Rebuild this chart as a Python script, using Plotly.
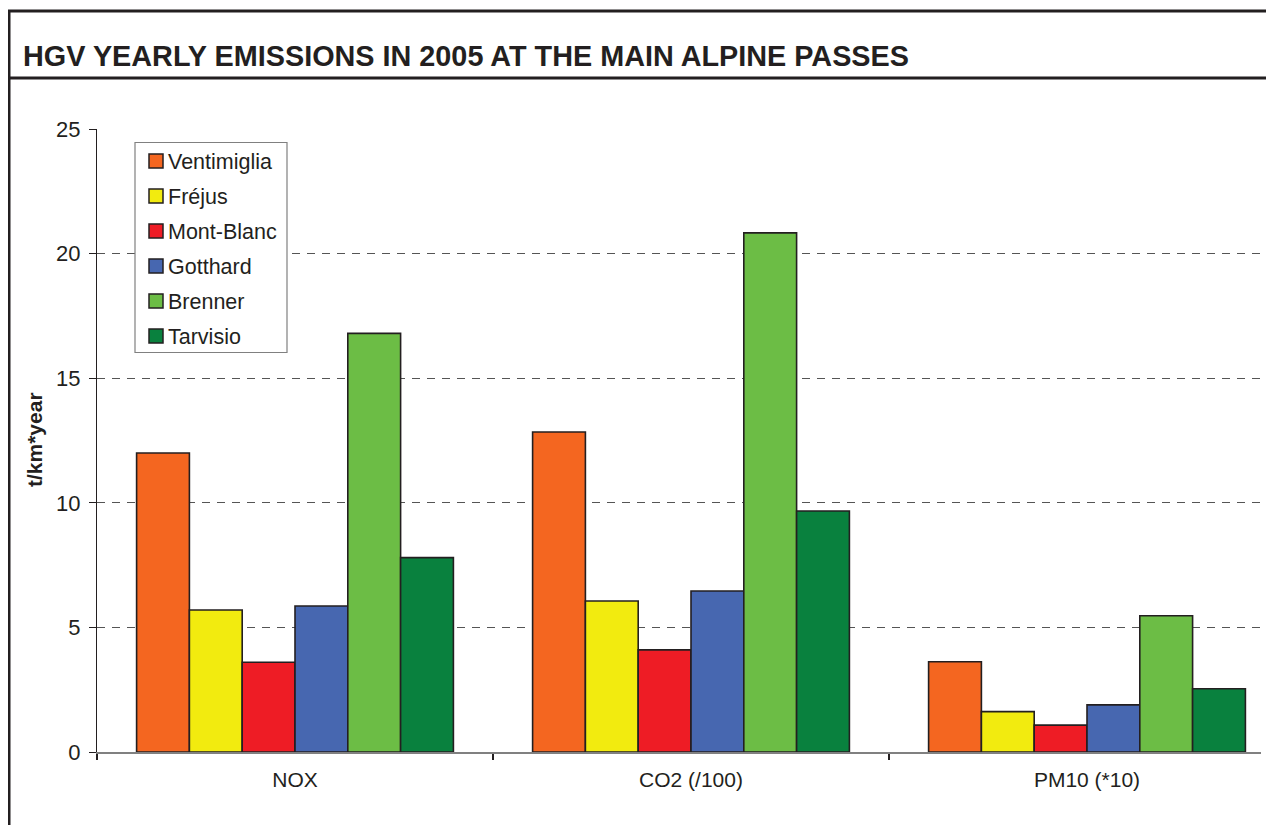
import plotly.graph_objects as go

categories = ["NOX", "CO2 (/100)", "PM10 (*10)"]
passes = ["Ventimiglia", "Fréjus", "Mont-Blanc", "Gotthard", "Brenner", "Tarvisio"]
ventimiglia = [12.0, 12.84, 3.62]
frejus = [5.7, 6.06, 1.62]
mont_blanc = [3.6, 4.1, 1.08]
gotthard = [5.86, 6.46, 1.89]
brenner = [16.8, 20.83, 5.47]
tarvisio = [7.8, 9.67, 2.54]
series = [ventimiglia, frejus, mont_blanc, gotthard, brenner, tarvisio]
colors = ["#F46620", "#F2EB0F", "#EE1C25", "#4767B0", "#6CBD45", "#09813E"]
y_ticks = [0, 5, 10, 15, 20, 25]

# page coordinates (the page body has an 8px margin)
OFF = 8
W, H = 1274 - OFF, 825 - OFF
L, R, T, B = 97, 1261, 129, 752
pw, ph = R - L, B - T

def px(x):
    return (x - L) / pw

def py(y):
    return (B - y) / ph

dark = "#231F20"
font_family = "Liberation Sans, Arial, sans-serif"

fig = go.Figure()
for name, vals, col in zip(passes, series, colors):
    fig.add_trace(go.Bar(
        x=categories, y=vals, name=name,
        marker=dict(color=col, line=dict(color=dark, width=1.6)),
    ))

shapes = [
    dict(type="line", xref="paper", yref="paper", x0=px(8), x1=px(1290), y0=py(11), y1=py(11),
         line=dict(color=dark, width=3)),
    dict(type="line", xref="paper", yref="paper", x0=px(8), x1=px(1290), y0=py(78), y1=py(78),
         line=dict(color=dark, width=3)),
    dict(type="line", xref="paper", yref="paper", x0=px(9), x1=px(9), y0=py(10), y1=py(840),
         line=dict(color=dark, width=3)),
    # legend box
    dict(type="rect", xref="paper", yref="paper", x0=px(135), x1=px(287), y0=py(142.5), y1=py(352.5),
         line=dict(color="#808080", width=1.2), fillcolor="white", layer="above"),
]
annotations = [
    dict(text="<b>HGV YEARLY EMISSIONS IN 2005 AT THE MAIN ALPINE PASSES</b>",
         xref="paper", yref="paper", x=px(21), y=py(56), xanchor="left", yanchor="middle",
         showarrow=False, font=dict(size=28.8, color=dark)),
    dict(text="<b>t/km*year</b>", textangle=-90,
         xref="paper", yref="paper", x=px(35), y=py(440), xanchor="center", yanchor="middle",
         showarrow=False, font=dict(size=21, color=dark)),
]
for i, (name, col) in enumerate(zip(passes, colors)):
    cy = 161 + 35 * i
    shapes.append(dict(type="rect", xref="paper", yref="paper",
                       x0=px(149), x1=px(163), y0=py(cy - 7), y1=py(cy + 7),
                       fillcolor=col, line=dict(color=dark, width=1.5), layer="above"))
    annotations.append(dict(text=name, xref="paper", yref="paper", x=px(166), y=py(cy + 1),
                            xanchor="left", yanchor="middle", showarrow=False,
                            font=dict(size=21.5, color=dark)))

fig.update_layout(
    width=W, height=H,
    margin=dict(l=L - OFF, r=W - (R - OFF), t=T - OFF, b=H - (B - OFF)),
    paper_bgcolor="white", plot_bgcolor="white",
    barmode="group", bargap=0.2, bargroupgap=0,
    font=dict(family=font_family, color=dark),
    showlegend=False,
    xaxis=dict(
        range=[-0.5, -0.5 + pw / 396], showline=True, linecolor="#808080", linewidth=1.5,
        ticks="outside", tickson="boundaries", ticklen=6, tickcolor=dark, tickwidth=1.5,
        tickfont=dict(size=21, color=dark), ticklabelstandoff=8,
        showgrid=False, zeroline=False,
    ),
    yaxis=dict(
        range=[0, 25], tickvals=y_ticks, showline=True, linecolor=dark, linewidth=1.2,
        ticks="outside", ticklen=7, tickcolor=dark, tickwidth=1.2,
        tickfont=dict(size=22, color=dark), ticklabelstandoff=4,
        showgrid=True, gridcolor="#555555", griddash="8px,7px", gridwidth=1.2, zeroline=False,
    ),
    shapes=shapes,
    annotations=annotations,
)

fig.write_html("out.html")
